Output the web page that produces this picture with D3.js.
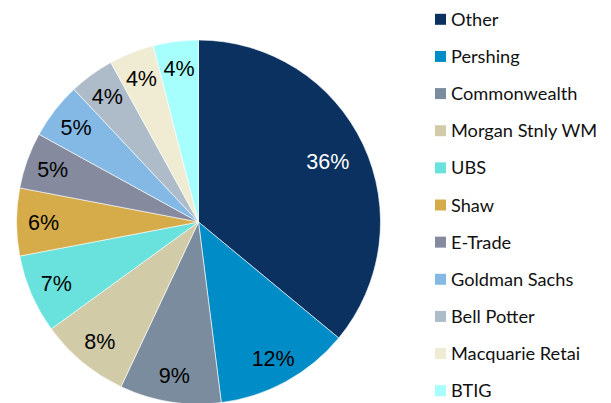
<!DOCTYPE html>
<html>
<head>
<meta charset="utf-8">
<script src="https://cdn.jsdelivr.net/npm/d3@7"></script>
<style>
  body { margin: 0; background: #fff; }
  svg { display: block; }
</style>
</head>
<body>
<div id="chart"></div>
<script>
// data
var names = ["Other", "Pershing", "Commonwealth", "Morgan Stnly WM", "UBS", "Shaw",
             "E-Trade", "Goldman Sachs", "Bell Potter", "Macquarie Retai", "BTIG"];
var shares = [36, 12, 9, 8, 7, 6, 5, 5, 4, 4, 4];
var colors = ["#0a3160", "#008cc6", "#7a8c9e", "#d2cba8", "#69e2de", "#d5ac49",
              "#858a9e", "#84b9e5", "#aebbc9", "#f0ebd3", "#a6fffc"];

var width = 611, height = 403;
var cx = 198.5, cy = 222, radius = 182;

var svg = d3.select("#chart")
  .append("svg")
    .attr("width", width)
    .attr("height", height);

var data = names.map(function(n, i) { return {name: n, value: shares[i], color: colors[i]}; });

var pie = d3.pie()
    .sort(null)
    .value(function(d) { return d.value; });

var arc = d3.arc().innerRadius(0).outerRadius(radius);
var labelArc = d3.arc().innerRadius(155).outerRadius(155);
var bigLabelArc = d3.arc().innerRadius(143).outerRadius(143);

var g = svg.append("g")
    .attr("transform", "translate(" + cx + "," + cy + ")");

var slices = pie(data);

g.selectAll("path")
  .data(slices)
  .enter().append("path")
    .attr("d", arc)
    .attr("fill", function(d) { return d.data.color; })
    .attr("stroke", "#ffffff")
    .attr("stroke-width", 0.6);

g.selectAll("text")
  .data(slices)
  .enter().append("text")
    .attr("transform", function(d, i) {
      var c = (i == 0 ? bigLabelArc : labelArc).centroid(d);
      return "translate(" + c[0] + "," + c[1] + ")";
    })
    .attr("text-anchor", "middle")
    .attr("dy", "0.36em")
    .style("font-family", "'Liberation Sans', Arial, sans-serif")
    .style("font-size", "21.5px")
    .style("fill", function(d, i) { return i == 0 ? "#ffffff" : "#000000"; })
    .text(function(d) { return d.data.value + "%"; });

// legend
var legendY = d3.scalePoint()
    .domain(names)
    .range([19.3, 390.7]);

var legend = svg.append("g");

var items = legend.selectAll("g")
  .data(data)
  .enter().append("g")
    .attr("transform", function(d) { return "translate(435," + legendY(d.name) + ")"; });

items.append("rect")
    .attr("x", 0)
    .attr("y", -5.5)
    .attr("width", 11)
    .attr("height", 11)
    .attr("fill", function(d) { return d.color; });

items.append("text")
    .attr("x", 16)
    .attr("dy", "0.36em")
    .style("font-family", "Lato, 'Open Sans', sans-serif")
    .style("font-size", "18.2px")
    .style("fill", "#111")
    .text(function(d) { return d.name; });
</script>
</body>
</html>
